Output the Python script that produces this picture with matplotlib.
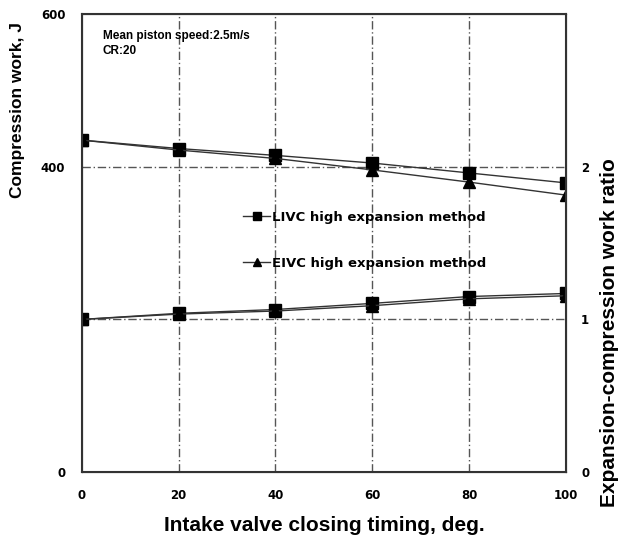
import matplotlib
matplotlib.use("Agg")
import matplotlib.pyplot as plt
from matplotlib.lines import Line2D

plt.rcParams['font.family'] = ['Liberation Sans', 'DejaVu Sans']
plt.rcParams['font.weight'] = 'bold'

# Intake valve closing timing, deg.
ivc = [0, 20, 40, 60, 80, 100]

# Compression work, J
work_livc = [435, 424, 415, 405, 392, 379]
work_eivc = [435, 422, 411, 396, 380, 363]

# Expansion-compression work ratio
ratio_livc = [1.00, 1.04, 1.065, 1.105, 1.15, 1.17]
ratio_eivc = [1.00, 1.035, 1.055, 1.09, 1.135, 1.155]

left_ticks = [0, 400, 600]
right_ticks = [0, 1, 2]
labels = ["LIVC high expansion method", "EIVC high expansion method"]

fig = plt.figure(figsize=(6.21, 5.36), dpi=100)
ax = fig.add_axes([0.132, 0.1194, 0.779, 0.854])
ax2 = ax.twinx()

line_kw = dict(color='#333333', lw=1.0, markersize=8, markerfacecolor='black', markeredgecolor='black')
ax.plot(ivc, work_livc, marker='s', **line_kw)
ax.plot(ivc, work_eivc, marker='^', **line_kw)
ax2.plot(ivc, ratio_livc, marker='s', **line_kw)
ax2.plot(ivc, ratio_eivc, marker='^', **line_kw)

ax.set_xlim(0, 100)
ax.set_ylim(0, 600)
ax2.set_ylim(0, 3)

# dash-dot grid
grid_kw = dict(color='#555555', lw=1.0, ls=(0, (6, 2, 1, 2)), zorder=0)
for xv in [20, 40, 60, 80]:
    ax.axvline(xv, **grid_kw)
for yv in [200, 400]:
    ax.axhline(yv, **grid_kw)

ax.set_xticks([0, 20, 40, 60, 80, 100])
ax.set_yticks(left_ticks)
ax2.set_yticks(right_ticks)
tick_font = {'family': 'DejaVu Sans', 'weight': 'bold', 'size': 8.5}
for a in (ax, ax2):
    a.tick_params(length=0)
    for lbl in a.get_xticklabels() + a.get_yticklabels():
        lbl.set_fontproperties(tick_font)
ax.tick_params(axis='x', pad=12)
ax.tick_params(axis='y', pad=12)
ax2.tick_params(axis='y', pad=11)

for sp in ax2.spines.values():
    sp.set_linewidth(1.5)
    sp.set_color('#333333')

ax.set_xlabel("Intake valve closing timing, deg.", fontsize=15, fontweight='bold', labelpad=10)
ax.set_ylabel("Compression work, J", fontsize=12.5, fontweight='bold')
ax.yaxis.set_label_coords(-0.118, 0.79)
ax2.set_ylabel("Expansion-compression work ratio", fontsize=15, fontweight='bold')
ax2.yaxis.set_label_coords(1.07, 0.305)

ax.text(0.043, 0.965, "Mean piston speed:2.5m/s\nCR:20", transform=ax.transAxes,
        fontsize=8.5, fontweight='bold', va='top', linespacing=1.25)

handles = [Line2D([], [], marker='s', **line_kw), Line2D([], [], marker='^', **line_kw)]
leg = ax.legend(handles, labels,
                loc='upper left', bbox_to_anchor=(0.32, 0.585), frameon=False, borderpad=0,
                prop={'family': 'DejaVu Sans', 'size': 9.5, 'weight': 'bold'},
                handlelength=2.0, handletextpad=0.2, labelspacing=2.5, markerscale=0.7)

fig.savefig("out.png", dpi=100)
